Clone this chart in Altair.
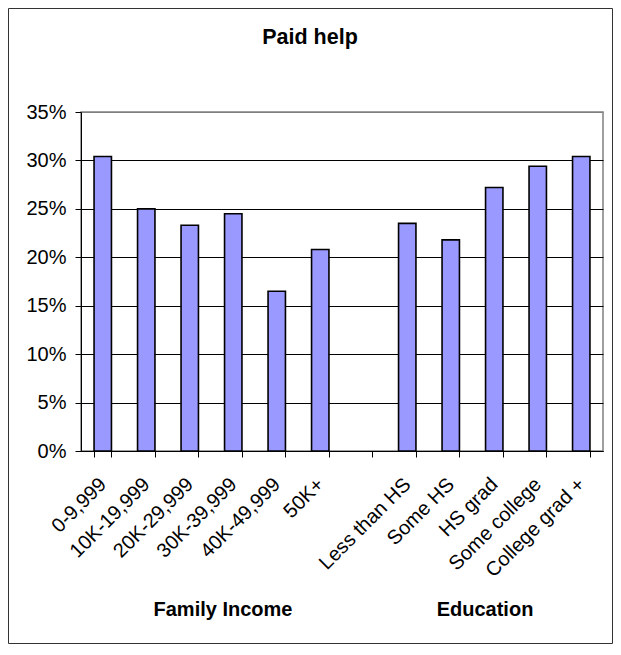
import altair as alt
import pandas as pd

categories = ["0-9,999", "10K-19,999", "20K-29,999", "30K-39,999", "40K-49,999", "50K+",
              " ", "Less than HS", "Some HS", "HS grad", "Some college", "College grad +"]
values = [0.304, 0.250, 0.233, 0.245, 0.165, 0.208,
          None, 0.235, 0.218, 0.272, 0.294, 0.304]
y_ticks = [0, 0.05, 0.10, 0.15, 0.20, 0.25, 0.30, 0.35]
title_text = ["Paid help"]
group_labels = ["Family Income", "Education"]

FONT = "Liberation Sans"
W, H = 522, 339

df = pd.DataFrame({"cat": categories, "val": values})

bars = alt.Chart(df).mark_bar(
    fill="#9999FF", stroke="black", strokeWidth=1.6
).encode(
    x=alt.X("cat:N", sort=categories,
            scale=alt.Scale(domain=categories, paddingInner=0.6, paddingOuter=0.3),
            axis=alt.Axis(title=None, labelAngle=-45, labelAlign="right", labelBaseline="middle",
                          labelFont=FONT, labelFontSize=20, labelColor="black",
                          labelPadding=24, labelOverlap=False, tickBand="extent",
                          tickColor="black", tickSize=6, domainColor="black",
                          grid=False, labelLimit=300)),
    y=alt.Y("val:Q", scale=alt.Scale(domain=[0, 0.35], nice=False),
            axis=alt.Axis(title=None, values=y_ticks, format=".0%",
                          labelFont=FONT, labelFontSize=20, labelColor="black",
                          labelPadding=9, tickColor="black", tickSize=6,
                          domainColor="black",
                          gridColor={"condition": {"test": "datum.value >= 0.349", "value": "#808080"},
                                     "value": "black"},
                          gridOpacity=1)),
)

title = alt.Chart(pd.DataFrame({"t": title_text})).mark_text(
    font=FONT, fontSize=21.5, fontWeight="bold", color="black", align="center", baseline="middle"
).encode(text="t:N", x=alt.value(229), y=alt.value(-74))

gdf = pd.DataFrame({"t": group_labels, "px": [142, 404]})
glabels = alt.Chart(gdf).mark_text(
    font=FONT, fontSize=20, fontWeight="bold", color="black", align="center", baseline="middle"
).encode(text="t:N", x=alt.X("px:Q", scale=None), y=alt.value(498))

border = alt.Chart(pd.DataFrame({"a": [0]})).mark_rect(
    fill="transparent", stroke="#333333", strokeWidth=1
).encode(x=alt.value(-72.5), x2=alt.value(W + 9.5), y=alt.value(-103.5), y2=alt.value(H + 192.5))

chart = alt.layer(border, bars, title, glabels).properties(
    width=W, height=H,
    autosize=alt.AutoSizeParams(type="none"),
    padding={"left": 73, "top": 104, "right": 10, "bottom": 193},
    background="white",
).configure_view(stroke="#808080", strokeWidth=1.5)

chart.save("out.html", embed_options={"renderer": "svg", "actions": False})
